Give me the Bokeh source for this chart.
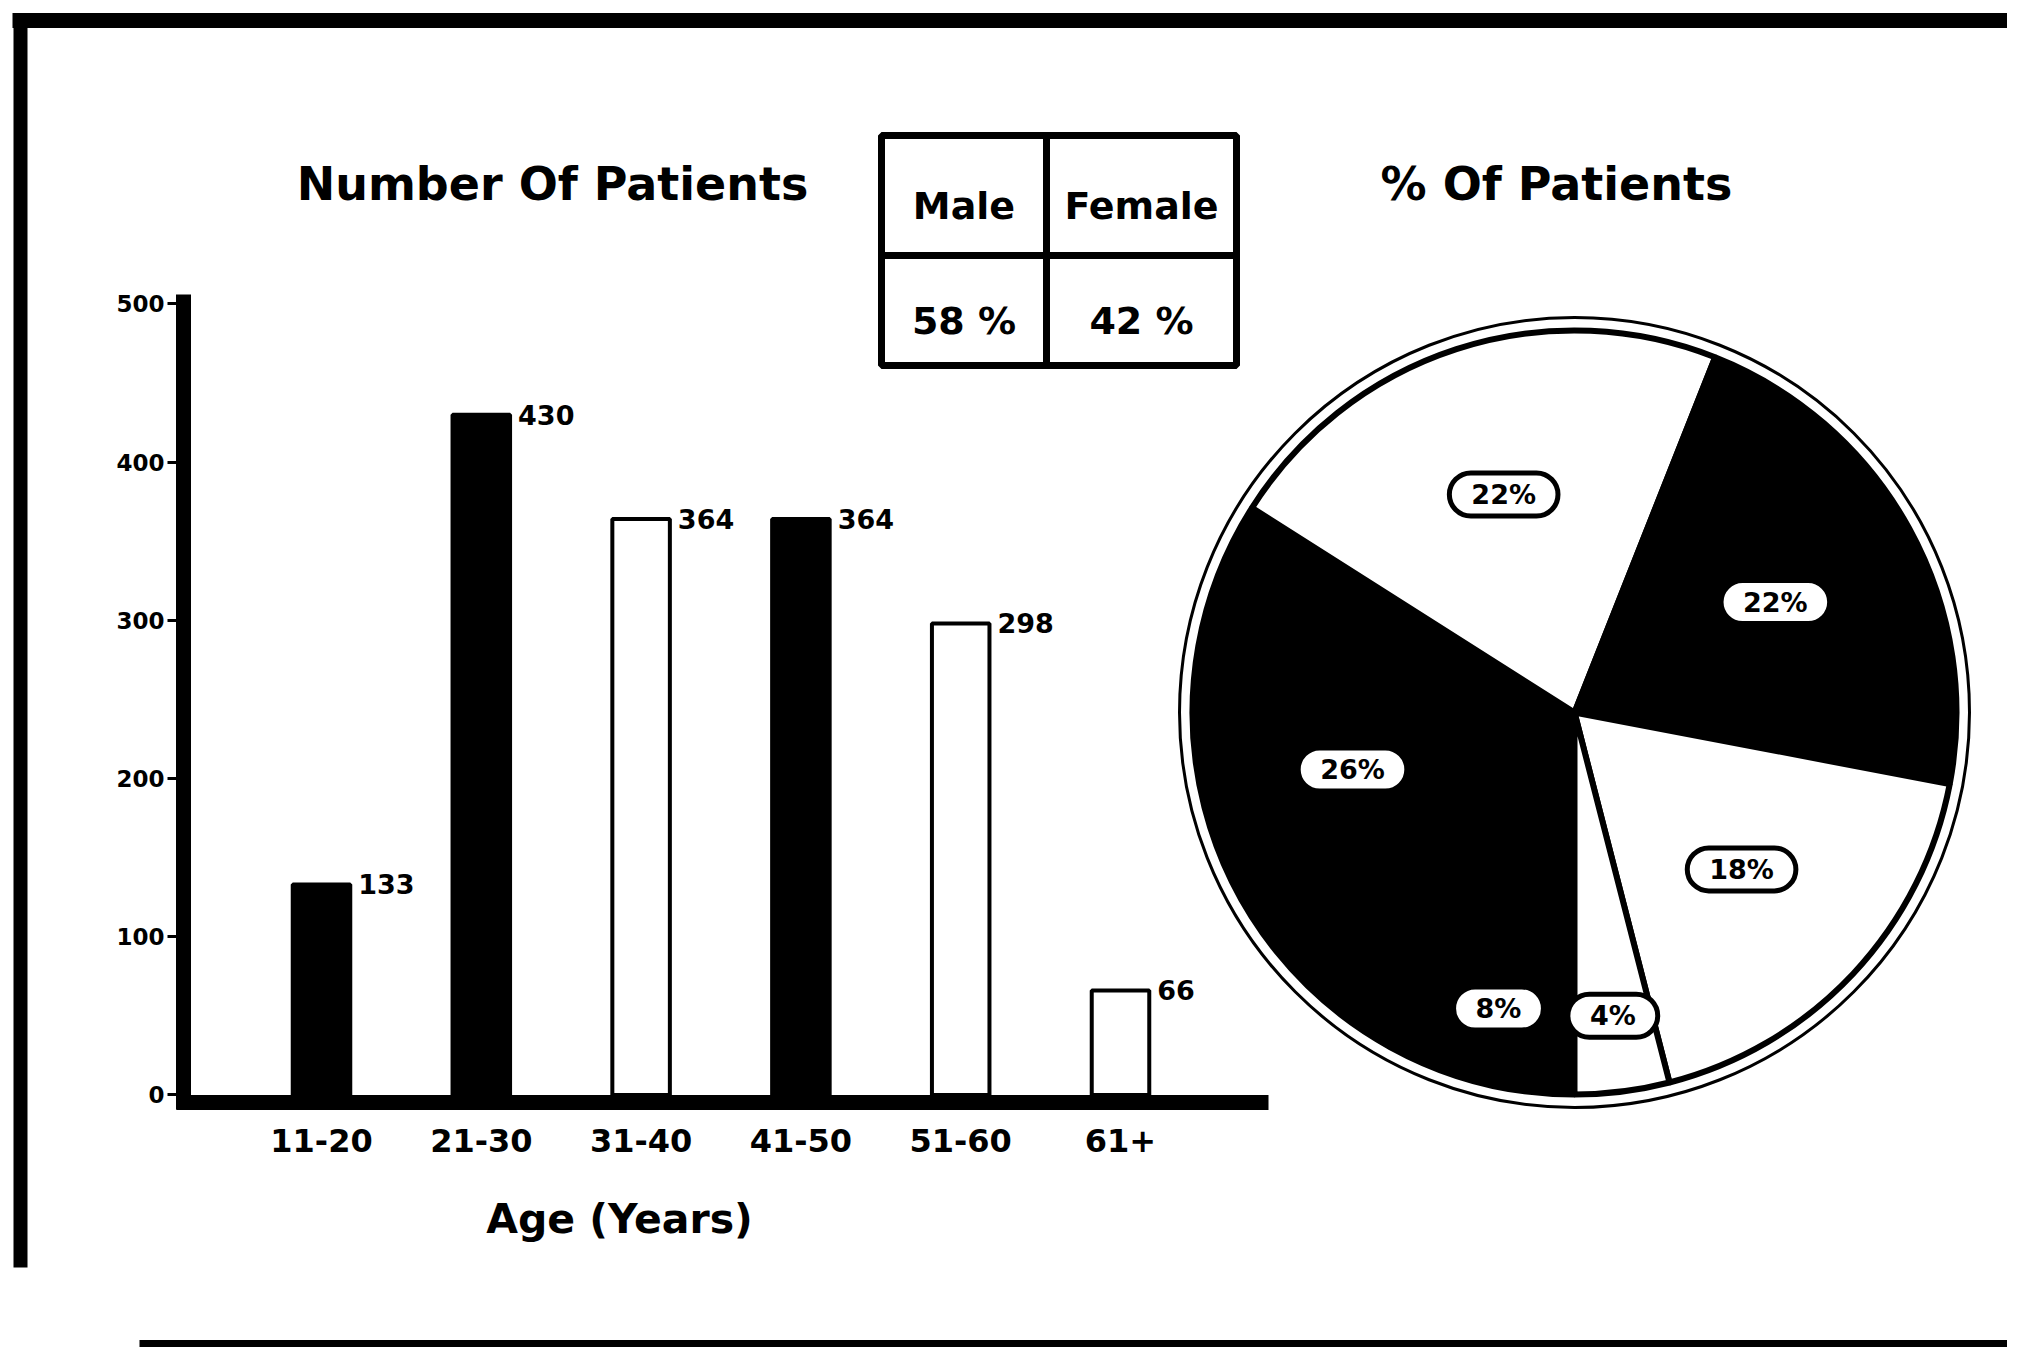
import math
from bokeh.plotting import figure
from bokeh.models import Range1d, LinearAxis, FixedTicker
from bokeh.core.properties import value
from bokeh.embed import file_html
from bokeh.resources import INLINE

# ---------------- data ----------------
age_groups = ["11-20", "21-30", "31-40", "41-50", "51-60", "61+"]
patients = [133, 430, 364, 364, 298, 66]
bar_fills = ["black", "black", "white", "black", "white", "white"]
percent_values = [8, 26, 22, 22, 18, 4]
percent_labels = ["8%", "26%", "22%", "22%", "18%", "4%"]
y_ticks = [0, 100, 200, 300, 400, 500]
sex_headers = ["Male", "Female"]
sex_shares = ["58 %", "42 %"]
left_title = "Number Of Patients"
right_title = "% Of Patients"
x_title = "Age (Years)"

# ---------------- layout (screenshot pixel space) ----------------
W, H = 2007, 1347
FONT = value("DejaVu Sans")
FONT_S = "DejaVu Sans"

BAR_X0, BAR_DX = 321.0, 159.8     # first bar centre, spacing between bars
BAR_Y0, BAR_DY = 1094.4, 1.582    # pixel row of zero, pixels per patient
BW = 0.36
PIE_CX, PIE_CY, PIE_R = 1574.0, 712.0, 382.0

p = figure(width=W, height=H,
           x_range=Range1d(0, W), y_range=Range1d(H, 0),
           x_axis_location=None, y_axis_location=None,
           toolbar_location=None, output_backend="svg",
           min_border=0, outline_line_color=None)
p.xgrid.visible = False
p.ygrid.visible = False
p.background_fill_color = "white"
p.border_fill_color = "white"

p.extra_x_ranges["bars"] = Range1d((0 - BAR_X0) / BAR_DX, (W - BAR_X0) / BAR_DX)
p.extra_y_ranges["bars"] = Range1d((BAR_Y0 - H) / BAR_DY, (BAR_Y0 - 0) / BAR_DY)
p.extra_x_ranges["pie"] = Range1d(0 - PIE_CX, W - PIE_CX)
p.extra_y_ranges["pie"] = Range1d(PIE_CY - H, PIE_CY - 0)

# ---------------- frame lines ----------------
p.segment(x0=[12], y0=[20], x1=[W], y1=[20], line_width=15, line_color="black")
p.segment(x0=[20], y0=[13], x1=[20], y1=[1267], line_width=14, line_color="black")
p.segment(x0=[139], y0=[1343], x1=[W], y1=[1343], line_width=7, line_color="black")

# ---------------- bar chart ----------------
idx = list(range(len(age_groups)))
p.vbar(x=idx, top=patients, bottom=0, width=BW, fill_color=bar_fills,
       line_color="black", line_width=4,
       x_range_name="bars", y_range_name="bars")

p.text(x=[i + BW / 2 for i in idx], y=patients, text=[str(v) for v in patients],
       x_offset=8, text_align="left", text_baseline="middle",
       text_font=FONT, text_font_style="bold", text_font_size="27px",
       text_color="black", x_range_name="bars", y_range_name="bars")

yax = LinearAxis(x_range_name="bars", y_range_name="bars",
                 fixed_location=(183 - BAR_X0) / BAR_DX,
                 bounds=(-9, 506),
                 ticker=FixedTicker(ticks=y_ticks, minor_ticks=[]),
                 axis_line_width=15, axis_line_color="black",
                 major_tick_out=16, major_tick_in=0, major_tick_line_width=3,
                 minor_tick_line_color=None,
                 major_label_standoff=3,
                 major_label_text_font=FONT_S, major_label_text_font_style="bold",
                 major_label_text_font_size="23px", major_label_text_color="black")
p.add_layout(yax, "left")

xax = LinearAxis(x_range_name="bars", y_range_name="bars",
                 fixed_location=(BAR_Y0 - 1102) / BAR_DY,
                 bounds=((176 - BAR_X0) / BAR_DX, (1268 - BAR_X0) / BAR_DX),
                 ticker=FixedTicker(ticks=idx, minor_ticks=[]),
                 major_label_overrides={i: g for i, g in zip(idx, age_groups)},
                 axis_line_width=15, axis_line_color="black",
                 major_tick_line_color=None, minor_tick_line_color=None,
                 major_tick_out=0, major_tick_in=0,
                 major_label_standoff=26,
                 major_label_text_font=FONT_S, major_label_text_font_style="bold",
                 major_label_text_font_size="32px", major_label_text_color="black")
p.add_layout(xax, "below")

# ---------------- titles ----------------
p.text(x=[552], y=[183], text=[left_title], text_align="center", text_baseline="middle",
       text_font=FONT, text_font_style="bold", text_font_size="46px", text_color="black")
p.text(x=[1556], y=[183], text=[right_title], text_align="center", text_baseline="middle",
       text_font=FONT, text_font_style="bold", text_font_size="46px", text_color="black")
p.text(x=[619], y=[1218], text=[x_title], text_align="center", text_baseline="middle",
       text_font=FONT, text_font_style="bold", text_font_size="41px", text_color="black")

# ---------------- sex table ----------------
TX0, TXM, TX1 = 881, 1046, 1236
TY0, TYM, TY1 = 135, 255, 365
p.quad(left=[TX0], right=[TX1], top=[TY0], bottom=[TY1], fill_color=None,
       line_color="black", line_width=7)
p.segment(x0=[TXM, TX0], y0=[TY0, TYM], x1=[TXM, TX1], y1=[TY1, TYM],
          line_color="black", line_width=7)
cell_x = [(TX0 + TXM) / 2, (TXM + TX1) / 2]
p.text(x=cell_x, y=[(TY0 + TYM) / 2 + 10] * 2, text=sex_headers,
       text_align="center", text_baseline="middle",
       text_font=FONT, text_font_style="bold", text_font_size="38px", text_color="black")
p.text(x=cell_x, y=[(TYM + TY1) / 2 + 10] * 2, text=sex_shares,
       text_align="center", text_baseline="middle",
       text_font=FONT, text_font_style="bold", text_font_size="38px", text_color="black")

# ---------------- pie ----------------
total = float(sum(percent_values))
starts, ends, mids = [], [], []
acc = 0.0
for v in percent_values:
    a0 = -math.pi / 2 - 2 * math.pi * acc / total
    acc += v
    a1 = -math.pi / 2 - 2 * math.pi * acc / total
    starts.append(a0)
    ends.append(a1)
    mids.append((a0 + a1) / 2)

p.circle(x=[0], y=[0], radius=PIE_R + 13, fill_color=None, line_color="black",
         line_width=3, x_range_name="pie", y_range_name="pie")
p.wedge(x=0, y=0, radius=PIE_R, start_angle=starts, end_angle=ends,
        direction="clock", fill_color=bar_fills, line_color="black", line_width=6,
        x_range_name="pie", y_range_name="pie")

lr = [0.6 if v >= 15 else 0.8 for v in percent_values]
lx = [PIE_R * r * math.cos(m) for r, m in zip(lr, mids)]
ly = [PIE_R * r * math.sin(m) for r, m in zip(lr, mids)]
p.text(x=lx, y=ly, text=percent_labels, text_align="center", text_baseline="middle",
       text_font=FONT, text_font_style="bold", text_font_size="27px", text_color="black",
       background_fill_color="white", border_line_color="black", border_line_width=5,
       padding=(22, 6), border_radius=22,
       x_range_name="pie", y_range_name="pie")

open("out.html", "w").write(file_html(p, INLINE))
